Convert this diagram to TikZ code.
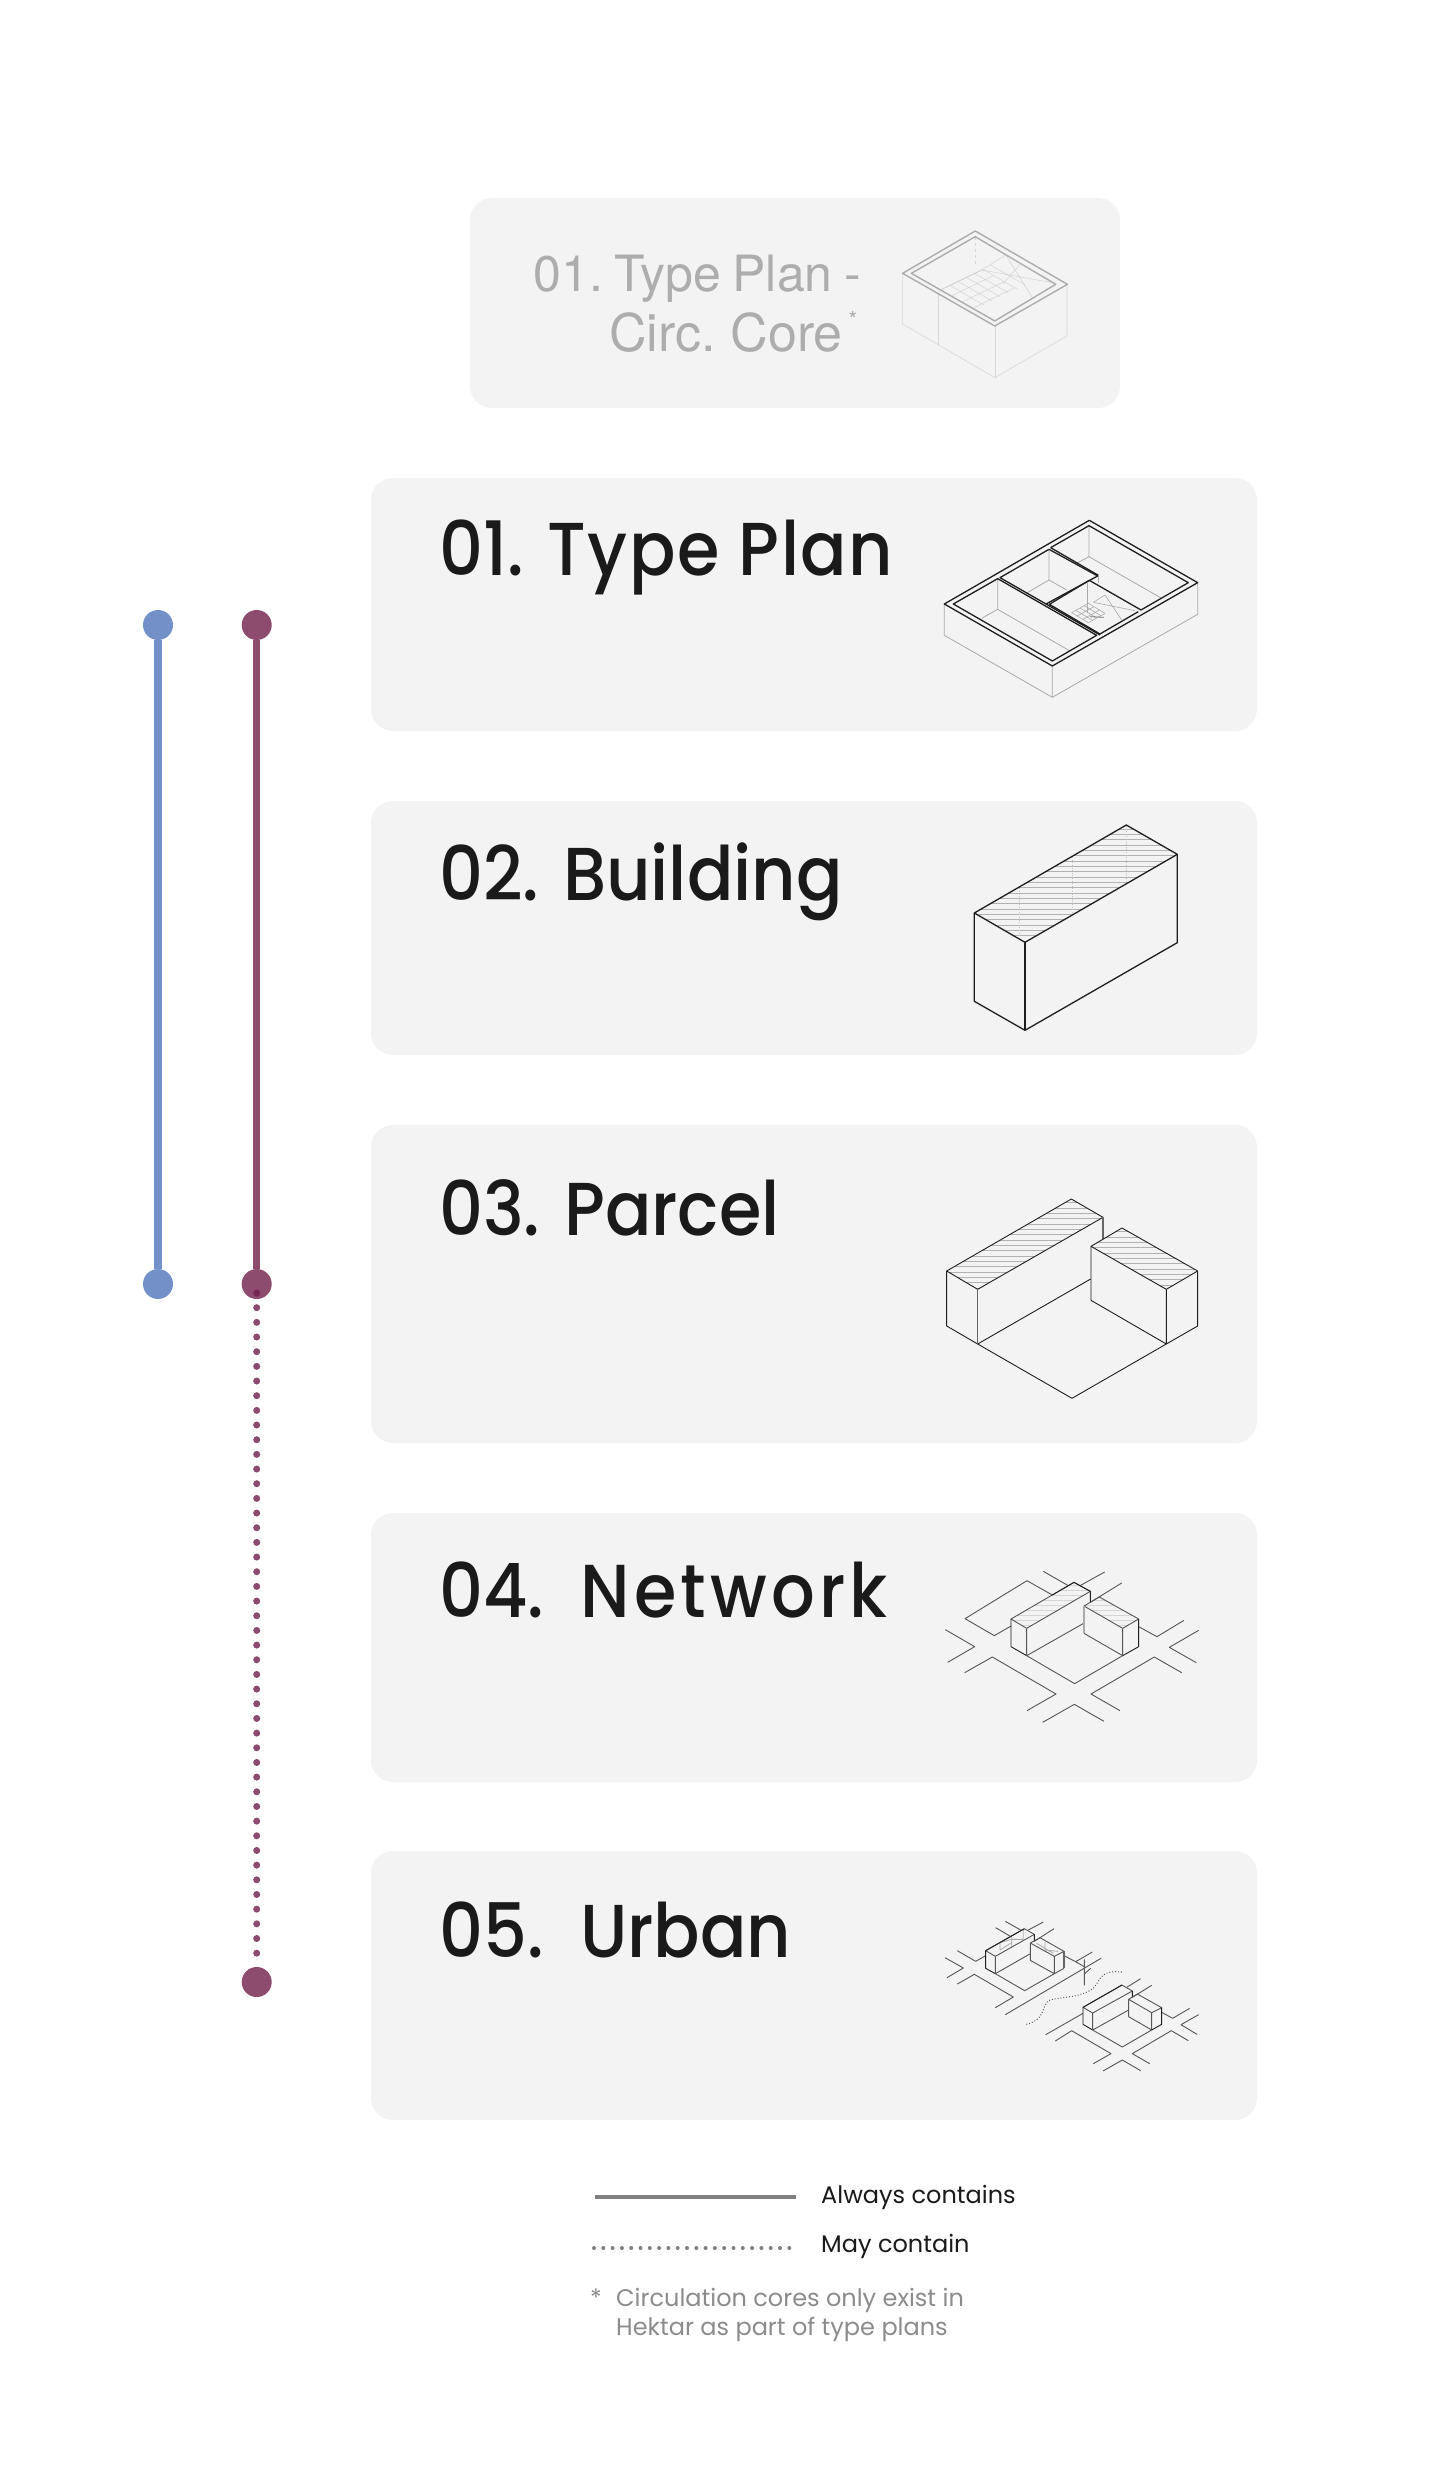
\documentclass[tikz,border=0pt]{standalone}
\usepackage{fontspec}
\setmainfont{Poppins}
\newfontfamily\titlefont{Poppins Medium}[FakeStretch=0.915]
\newfontfamily\greyfont{TeX Gyre Heros}
\usetikzlibrary{calc}
\definecolor{boxfill}{HTML}{F3F3F3}
\definecolor{ink}{HTML}{1A1A1A}
\definecolor{bluec}{HTML}{7390C8}
\definecolor{maroon}{HTML}{8D4C6E}
\definecolor{maroondot}{HTML}{701F4A}
\definecolor{greytext}{HTML}{ADADAD}
\definecolor{note}{HTML}{8C8C8C}
\definecolor{iline}{HTML}{1E1E1E}
\definecolor{ilineg}{HTML}{ABABAB}
\definecolor{rline}{HTML}{555555}
\tikzset{
  panel/.style={fill=boxfill,rounded corners=22pt,draw=none},
  title/.style={anchor=base west,inner sep=0pt,font=\titlefont\fontsize{75}{75}\selectfont,text=ink},
  greytitle/.style={anchor=base east,inner sep=0pt,text=greytext},
  legendt/.style={anchor=base west,inner sep=0pt,font=\fontsize{24}{24}\selectfont,text=ink},
  notet/.style={anchor=base west,inner sep=0pt,font=\fontsize{24}{24}\selectfont,text=note},
  dotn/.style={circle,inner sep=0pt,minimum size=30pt},
  blk/.style={draw=iline,line width=1.3pt,line join=round},
  gry/.style={draw=ilineg,line width=.8pt,line join=round},
  lgry/.style={draw=ilineg!70!boxfill,line width=.6pt},
  rd/.style={draw=rline,line width=.9pt,line join=round},
  lt/.style={draw=iline,line width=.9pt,line join=round},
  hatch/.style={draw=black!30,line width=.7pt},
  lhatch/.style={draw=black!16,line width=.7pt},
}
\newcommand{\hatchlines}[3]{% first y, second y, last y in local coords, spanning wide x
  \foreach \yy in {#1,#2,...,#3} {\draw[hatch] (-100,\yy) -- (1000,\yy);}
}
\newcommand{\lighthatch}[3]{%
  \foreach \yy in {#1,#2,...,#3} {\draw[lhatch] (-100,\yy) -- (1000,\yy);}
}
\begin{document}
\begin{tikzpicture}[x=1pt,y=-1pt]
\useasboundingbox (0,0) rectangle (1440,2480);
\fill[white] (0,0) rectangle (1440,2480);
% panels
\path[panel] (470,198) rectangle (1120,408);
\path[panel] (371,478) rectangle (1257,731);
\path[panel] (371,801) rectangle (1257,1055);
\path[panel] (371,1125) rectangle (1257,1443);
\path[panel] (371,1513) rectangle (1257,1782);
\path[panel] (371,1851) rectangle (1257,2120);
% titles
\node[greytitle,font=\greyfont\fontsize{50}{50}\selectfont] (g1) at (861,292) {01.\hspace{11.5pt}Type\hspace{11.5pt}Plan\hspace{11.5pt}-};
\node[greytitle,font=\greyfont\fontsize{52}{52}\selectfont] (g2) at (843,351) {Circ.\hspace{15pt}Core};
\node[anchor=base,inner sep=0pt,text=greytext,font=\greyfont\fontsize{22}{22}\selectfont] (g3) at (853,327) {*};
\node[title] (t1) at (439,575) {01. \addfontfeature{LetterSpace=2}Type Plan};
\node[title] (t2) at (439,900) {02. Building};
\node[title] (t3) at (439,1235) {03. Parcel};
\node[title] (t4) at (439,1617) {04.\hspace{.17em} \addfontfeature{LetterSpace=5.5}Network};
\node[title] (t5) at (439,1957) {05.\hspace{.17em} Urban};
% containment lines
\node[dotn,fill=bluec] (b1) at (158,625) {};
\node[dotn,fill=bluec] (b2) at (158,1284) {};
\node[dotn,fill=maroon] (m1) at (256.7,625) {};
\node[dotn,fill=maroon] (m2) at (256.7,1284) {};
\node[dotn,fill=maroon] (m3) at (256.7,1982) {};
\draw[bluec,line width=7.5pt] (b1) -- (b2);
\draw[maroon,line width=7.5pt] (m1) -- (m2);
\coordinate (m2d) at (256.7,1293);
\draw[maroondot,opacity=.8,line width=7pt,line cap=round,dash pattern=on 0pt off 14.67pt] (m2d) -- (m3);
% legend
\coordinate (l1a) at (595,2197); \coordinate (l1b) at (796,2197);
\coordinate (l2a) at (594,2248); \coordinate (l2b) at (798,2248);
\draw[black!50,line width=4.5pt] (l1a) -- (l1b);
\draw[black!50,line width=4pt,line cap=round,dash pattern=on 0pt off 9.3pt] (l2a) -- (l2b);
\node[legendt] (la) at (821,2203) {Always contains};
\node[legendt] (lb) at (821,2252) {May contain};
\node[notet] (n0) at (590,2306) {*};
\node[notet] (n1) at (616,2306) {Circulation cores only exist in};
\node[notet] (n2) at (616,2335) {Hektar as part of type plans};
% grey icon
\begin{scope}[shift={(460,180)},x=0.4348pt,y=-0.3333pt,opacity=.55]
\draw[lgry] (1018,280)--(1018,432)--(1230,593)--(1396,468)--(1396,313);
\draw[lgry] (1230,438)--(1230,593) (1100,340)--(1100,495);
\draw[lgry,dashed] (1185,170)--(1185,260);
\draw[gry,line width=1.4pt,draw=black!55] (1185,153)--(1018,280)--(1230,438)--(1397,313)--cycle;
\draw[gry,line width=1.4pt,draw=black!55] (1185,170)--(1038,280)--(1230,423)--(1370,313)--cycle;
\draw[lgry] (1105,330)--(1200,270)--(1255,225)--(1370,310)--(1200,270);
\draw[lgry] (1255,225)--(1315,350) (1290,250)--(1250,310);
\foreach \i in {0,1,2,3,4,5}{\draw[lgry] ({1125+\i*19},{315-\i*12})--({1205+\i*19},{375-\i*12});}
\foreach \i in {0,1,2,3}{\draw[lgry] ({1105+\i*25},{330+\i*18})--({1200+\i*25},{270+\i*18});}
\end{scope}
% type plan icon
\begin{scope}[shift={(920,500)},x=0.3333pt,y=-0.3333pt]
\draw[gry] (73,312)--(73,406)--(397,592)--(833,343)--(833,248) (397,498)--(397,592);
\draw[gry] (233,236)--(233,328)--(450,453) (233,328)--(185,355);
\draw[gry] (387,148)--(387,240)--(322,278) (387,240)--(440,270);
\draw[gry] (507,77)--(507,170)--(725,295) (507,170)--(470,190);
\draw[gry] (535,228)--(535,250) (503,248)--(503,340);
\draw[blk] (508,61)--(73,312)--(397,498)--(833,248)--cycle;
\draw[blk] (392,143)--(507,77)--(805,248)--(663,330)--(508,241)--(388,313)--(540,402)--(655,335);
\draw[blk] (100,312)--(233,236)--(530,406)--(397,483)--cycle;
\draw[blk] (240,233)--(387,148)--(533,228)--(378,312)--cycle;
\draw[blk] (392,143)--(535,226) (378,312)--(540,405);
\draw[gry,line width=.6pt] (520,307)--(555,285)--(605,360) (520,307)--(645,332);
\foreach \i in {0,1,2,3,4}{\draw[gry,line width=.6pt] ({455+\i*12.5},{338-\i*7})--({505+\i*12.5},{368-\i*7});}
\foreach \i in {0,1,2,3}{\draw[gry,line width=.6pt] ({455+\i*16.7},{338+\i*10})--({505+\i*16.7},{310+\i*10});}
\draw[gry,draw=black!55,line width=.8pt] (510,350)--(552,352);
\end{scope}
% building icon
\begin{scope}[shift={(940,810)},x=0.3333pt,y=-0.3333pt]
\begin{scope}
\clip (559,45)--(712,133)--(255,397)--(103,309)--cycle;
\hatchlines{57}{73}{393}
\foreach \xx in {238,398,560} {\draw[lgry,dotted] (\xx,40)--(\xx,400);}
\end{scope}
\draw[blk] (559,45)--(712,133)--(255,397)--(103,309)--cycle;
\draw[blk] (103,309)--(103,574)--(255,661)--(712,398)--(712,133);
\draw[blk] (255,397)--(255,661);
\end{scope}
% parcel icon
\begin{scope}[shift={(930,1180)},x=0.3333pt,y=-0.3333pt]
\begin{scope}
\clip (424,57)--(519,112)--(143,328)--(50,273)--cycle;
\hatchlines{68}{84}{330}
\end{scope}
\begin{scope}
\clip (576,144)--(803,273)--(709,328)--(483,199)--cycle;
\hatchlines{155}{171}{330}
\end{scope}
\draw[lt] (424,57)--(519,112)--(143,328)--(50,273)--cycle;
\draw[lt] (50,273)--(50,438)--(143,492)--(482,297);
\draw[gry,line width=1.2pt,draw=black!60] (143,328)--(143,492) (519,112)--(519,178);
\draw[lt] (576,144)--(803,273)--(709,328)--(483,199)--cycle;
\draw[lt] (483,199)--(483,361)--(709,492)--(803,438)--(803,273) (709,328)--(709,492);
\draw[lt] (143,492)--(426,655)--(709,492);
\end{scope}
% network icon
\begin{scope}[shift={(930,1540)},x=0.3333pt,y=-0.3333pt]
\begin{scope}
\clip (432,127)--(481,154)--(290,265)--(243,237)--cycle;
\lighthatch{135}{150}{265}
\end{scope}
\begin{scope}
\clip (508,171)--(626,237)--(578,265)--(462,198)--cycle;
\lighthatch{180}{195}{265}
\end{scope}
\draw[rd] (340,94)--(415,137) (450,137)--(524,96) (481,187)--(575,129);
\draw[rd] (367,165)--(291,122)--(105,236)--(193,287)--(243,258);
\draw[rd] (626,260)--(681,290)--(762,241);
\draw[rd] (46,269)--(134,320)--(53,367);
\draw[rd] (806,271)--(718,322)--(799,368);
\draw[rd] (104,398)--(187,351)--(378,462)--(291,512);
\draw[rd] (755,398)--(673,351)--(483,462)--(570,512);
\draw[rd] (338,547)--(433,493)--(522,544);
\draw[rd] (432,127)--(481,154)--(290,265)--(243,237)--cycle;
\draw[lt] (243,237)--(243,320)--(290,347) (367,165)--(432,127)--(481,154)--(481,187);
\draw[rd] (290,265)--(290,347)--(461,250);
\draw[rd] (508,171)--(626,237)--(578,265)--(462,198)--cycle;
\draw[gry,line width=1.4pt] (462,198)--(462,280);
\draw[rd] (462,280)--(578,347) (578,265)--(578,347);
\draw[lt] (578,347)--(626,320)--(626,237);
\draw[rd] (290,347)--(434,431)--(578,347);
\end{scope}
% urban icon
\begin{scope}[shift={(930,1900)},x=0.3333pt,y=-0.3333pt]
\draw[gry] (210,128)--(210,150) (245,110)--(245,140) (280,90)--(280,118) (210,150)--(245,128) (245,118)--(280,118) (245,118)--(210,128);
\draw[gry] (345,125)--(345,150) (345,150)--(385,154) (320,130)--(370,160);
\draw[rd] (226,64)--(272,90) (295,90)--(340,66) (197,83)--(243,110) (313,124)--(372,86);
\draw[rd] (82,152)--(137,184)--(167,167);
\draw[rd] (402,167)--(437,185)--(487,156) (437,185)--(463,200);
\draw[rd] (226,344)--(513,175) (463,178)--(463,256) (463,222)--(482,205);
\draw[rd] (45,173)--(100,204)--(51,233);
\draw[rd] (82,252)--(133,223)--(250,291)--(196,323);
\draw[rd,dotted,line width=1pt] (289,373) .. controls (345,360) and (335,320) .. (355,302) .. controls (385,290) and (450,295) .. (490,265) .. controls (515,235) and (510,210) .. (576,216);
\draw[rd] (283,86)--(313,103)--(196,169)--(167,152)--cycle;
\draw[lt] (167,152)--(167,205)--(196,221) (283,86)--(167,152) (313,103)--(313,124);
\draw[rd] (196,169)--(196,221)--(301,161);
\draw[rd] (330,113)--(402,154)--(373,169)--(301,129)--cycle (301,129)--(301,181)--(373,221)--(402,205) (373,169)--(373,221);
\draw[gry,line width=1.3pt,draw=black!60] (402,154)--(402,205);
\draw[rd] (196,221)--(284,272)--(373,221);
\draw[rd] (347,404)--(459,340) (590,262)--(632,236) (607,292)--(665,256);
\draw[rd] (695,337)--(728,355)--(779,325);
\draw[rd] (806,344)--(753,374)--(801,403);
\draw[rd] (376,423)--(425,392)--(543,461)--(490,491);
\draw[rd] (775,422)--(724,392)--(607,461)--(659,491);
\draw[rd] (519,513)--(577,480)--(632,512);
\draw[rd] (576,255)--(607,273)--(488,339)--(459,322)--cycle;
\draw[lt] (459,322)--(576,255) (459,322)--(459,373)--(488,390) (607,273)--(607,292);
\draw[rd] (488,339)--(488,390)--(596,330);
\draw[rd] (622,282)--(695,323)--(665,338)--(596,298)--cycle (596,298)--(596,350)--(665,390) (665,338)--(665,390);
\draw[lt] (665,390)--(695,373)--(695,323);
\draw[rd] (488,390)--(577,441)--(665,390);
\end{scope}
\end{tikzpicture}
\end{document}
